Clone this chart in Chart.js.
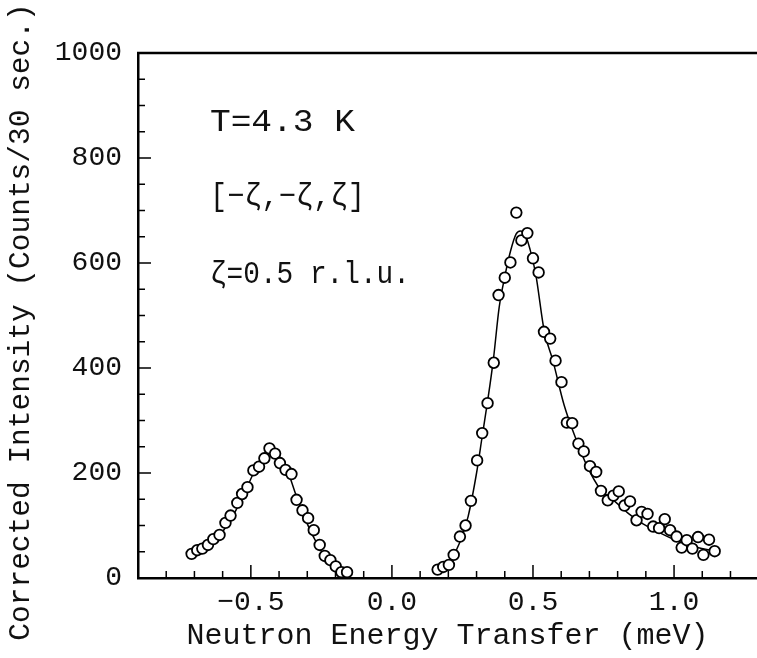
<!DOCTYPE html>
<html>
<head>
<meta charset="utf-8">
<script src="https://cdn.jsdelivr.net/npm/chart.js@4.4.0/dist/chart.umd.min.js"></script>
<style>
  html, body { margin: 0; padding: 0; background: #fff; overflow: hidden; }
  #wrap { width: 757px; height: 658px; position: relative; }
  #chart { display: block; }
</style>
</head>
<body>
<div id="wrap"><canvas id="chart"></canvas></div>
<script>
// Datos (transferencia de energía en meV, intensidad en cuentas/30 s)
const leftX = [-0.710, -0.690, -0.672, -0.652, -0.633, -0.611, -0.590, -0.572, -0.548, -0.531,
               -0.512, -0.491, -0.471, -0.452, -0.434, -0.414, -0.397, -0.377, -0.356, -0.338,
               -0.317, -0.297, -0.277, -0.256, -0.238, -0.218, -0.199, -0.179, -0.159];
const leftY = [46, 53, 56, 63, 74, 82, 105, 119, 143, 160,
               173, 205, 212, 228, 247, 237, 219, 206, 198, 149,
               129, 114, 91, 63, 42, 34, 22, 11, 11];

const rightX = [0.162, 0.182, 0.202, 0.219, 0.241, 0.261, 0.280, 0.302, 0.320, 0.339,
                0.361, 0.378, 0.400, 0.420, 0.441, 0.459, 0.480, 0.500, 0.520, 0.539,
                0.561, 0.580, 0.601, 0.620, 0.639, 0.661, 0.680, 0.702, 0.724, 0.741,
                0.765, 0.785, 0.804, 0.824, 0.844, 0.867, 0.885, 0.906, 0.926, 0.947,
                0.967, 0.986, 1.009, 1.027, 1.045, 1.065, 1.085, 1.104, 1.124, 1.144];
const rightY = [16, 21, 25, 44, 79, 100, 147, 224, 276, 333,
                410, 539, 572, 601, 696, 643, 657, 609, 582, 469,
                456, 414, 373, 296, 295, 256, 241, 213, 202, 166,
                148, 157, 165, 138, 146, 110, 126, 122, 98, 95,
                112, 91, 79, 58, 72, 56, 78, 44, 73, 51];

// Curvas de ajuste (línea continua)
const leftFitX = [-0.72, -0.68, -0.64, -0.60, -0.56, -0.52, -0.49, -0.46, -0.43, -0.40,
                  -0.37, -0.34, -0.30, -0.26, -0.22, -0.19, -0.165];
const leftFitY = [41, 50, 63, 88, 122, 165, 200, 226, 242, 232,
                  204, 158, 103, 60, 28, 13, 4];

const rightFitX = [0.19, 0.21, 0.24, 0.27, 0.30, 0.32, 0.34, 0.36, 0.38, 0.40,
                   0.42, 0.44, 0.455, 0.47, 0.49, 0.51, 0.54, 0.57, 0.61, 0.65,
                   0.69, 0.74, 0.79, 0.84, 0.89, 0.95, 1.01, 1.07, 1.12, 1.14];
const rightFitY = [22, 35, 67, 117, 200, 270, 340, 418, 515, 574,
                   622, 655, 661, 657, 625, 578, 470, 415, 330, 268,
                   215, 168, 146, 122, 103, 86, 71, 60, 54, 52];

const xTicks = [-0.5, 0.0, 0.5, 1.0];
const yTicks = [0, 200, 400, 600, 800, 1000];

const notes = ['T=4.3 K', '[\u2212\u03B6,\u2212\u03B6,\u03B6]', '\u03B6=0.5 r.l.u.'];
const noteX = -0.645;
const noteY = [867, 726, 577];
const noteWidths = [145, 155, 200];   // ancho del texto en la figura (px)

const yTitle = 'Corrected Intensity (Counts/30 sec.)';
const FONT = "'Liberation Mono', 'Courier New', monospace";

const toPts = (xs, ys) => xs.map((v, i) => ({ x: v, y: ys[i] }));

const framePlugin = {
    id: 'frame',
    beforeDraw(chart) {
        const ctx = chart.ctx;
        ctx.save();
        ctx.fillStyle = '#fff';
        ctx.fillRect(0, 0, chart.width, chart.height);
        ctx.restore();
    },
    afterDatasetsDraw(chart) {
        const { ctx, chartArea: a, scales: { x, y } } = chart;
        ctx.save();
        ctx.strokeStyle = '#000';
        ctx.lineWidth = 1.5;
        ctx.beginPath();
        // marcas del eje x hacia dentro, cada 0.1
        for (let k = -8; k <= 12; k++) {
            const px = x.getPixelForValue(k / 10);
            const len = (k % 5 === 0) ? 13 : 7;
            ctx.moveTo(px, a.bottom);
            ctx.lineTo(px, a.bottom - len);
        }
        // marcas del eje y, cada 50
        for (let v = 50; v < 1000; v += 50) {
            const py = y.getPixelForValue(v);
            const len = (v % 200 === 0) ? 13 : 7;
            ctx.moveTo(a.left, py);
            ctx.lineTo(a.left + len, py);
        }
        ctx.stroke();
        // borde superior
        ctx.lineWidth = 2.5;
        ctx.beginPath();
        ctx.moveTo(a.left - 1, a.top);
        ctx.lineTo(a.right, a.top);
        ctx.stroke();

        ctx.fillStyle = '#111';
        ctx.textBaseline = 'middle';

        // título del eje y (vertical)
        ctx.save();
        ctx.font = '29.5px ' + FONT;
        ctx.textAlign = 'center';
        ctx.translate(21, 322);
        ctx.rotate(-Math.PI / 2);
        ctx.fillText(yTitle, 0, 0);
        ctx.restore();

        // textos dentro del gráfico
        ctx.font = '31px ' + FONT;
        ctx.textAlign = 'left';
        notes.forEach((t, i) => {
            const w = ctx.measureText(t).width;
            ctx.save();
            ctx.translate(x.getPixelForValue(noteX), y.getPixelForValue(noteY[i]));
            ctx.scale(noteWidths[i] / w, 1);
            ctx.fillText(t, 0, 0);
            ctx.restore();
        });
        ctx.restore();
    }
};

new Chart(document.getElementById('chart'), {
    type: 'scatter',
    data: {
        datasets: [
            {
                data: toPts(leftX, leftY),
                pointStyle: 'circle',
                pointRadius: 5.3,
                pointBorderWidth: 1.8,
                pointBackgroundColor: '#fff',
                pointBorderColor: '#000',
                showLine: false
            },
            {
                data: toPts(rightX, rightY),
                pointStyle: 'circle',
                pointRadius: 5.3,
                pointBorderWidth: 1.8,
                pointBackgroundColor: '#fff',
                pointBorderColor: '#000',
                showLine: false
            },
            {
                data: toPts(leftFitX, leftFitY),
                showLine: true,
                pointRadius: 0,
                borderColor: '#000',
                borderWidth: 1.5,
                cubicInterpolationMode: 'monotone'
            },
            {
                data: toPts(rightFitX, rightFitY),
                showLine: true,
                pointRadius: 0,
                borderColor: '#000',
                borderWidth: 1.5,
                cubicInterpolationMode: 'monotone'
            }
        ]
    },
    options: {
        responsive: true,
        maintainAspectRatio: false,
        animation: false,
        layout: { autoPadding: false, padding: { top: 53, right: 0, left: 0, bottom: 0 } },
        plugins: { legend: { display: false }, tooltip: { enabled: false } },
        scales: {
            x: {
                type: 'linear',
                min: -0.9,
                max: 1.294,
                afterBuildTicks: (s) => { s.ticks = xTicks.map(v => ({ value: v })); },
                afterFit: (s) => { s.height = 80; s.paddingRight = 0; s.paddingLeft = 0; },
                grid: { display: false, drawTicks: false },
                border: { display: true, color: '#000', width: 2.5 },
                ticks: {
                    padding: 8,
                    color: '#111',
                    font: { family: FONT, size: 28 },
                    callback: (v) => (v < 0 ? '\u2212' : '') + Math.abs(v).toFixed(1)
                },
                title: {
                    display: true,
                    text: 'Neutron Energy Transfer (meV)',
                    color: '#111',
                    font: { family: FONT, size: 30 },
                    padding: { top: 0, bottom: 4 }
                }
            },
            y: {
                min: 0,
                max: 1000,
                afterBuildTicks: (s) => { s.ticks = yTicks.map(v => ({ value: v })); },
                afterFit: (s) => { s.width = 138; },
                grid: { display: false, drawTicks: false },
                border: { display: true, color: '#000', width: 2.5 },
                ticks: {
                    padding: 16,
                    color: '#111',
                    font: { family: FONT, size: 28 },
                    callback: (v) => String(v)
                },
                title: { display: false }
            }
        }
    },
    plugins: [framePlugin]
});
</script>
</body>
</html>
